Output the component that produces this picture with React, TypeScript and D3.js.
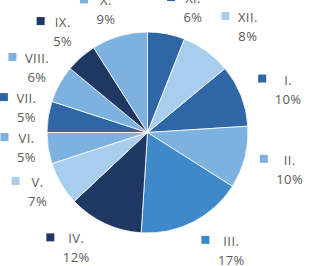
import { useMemo } from "react"
import * as d3 from "d3"

// months and their share of the year
const months = ["I.", "II.", "III.", "IV.", "V.", "VI.", "VII.", "VIII.", "IX.", "X.", "XI.", "XII."]
const shares = [10, 10, 17, 12, 7, 5, 5, 6, 5, 9, 6, 8]
const pctLabels = ["10%", "10%", "17%", "12%", "7%", "5%", "5%", "6%", "5%", "9%", "6%", "8%"]

const palette = [
  "#2f66a5", "#7db1e0", "#3f88c9", "#1e3763", "#a9cdec", "#7db1e0",
  "#2f66a5", "#7db1e0", "#1e3763", "#7db1e0", "#2f66a5", "#a9cdec",
]

// label layout (polar, degrees clockwise from 12 o'clock, px from centre)
const labelAngle = [73, 104.7, 144.7, 211.6, 241.6, 262.7, 281.4, 300.3, 319.8, 341.2, 20.1, 43.6]
const labelDist = [147, 147, 145, 136, 125, 122, 123.5, 128, 131.5, 129, 132.5, 145.5]

const W = 311
const H = 266
const FONT = "13px 'Open Sans'"
const LS = 0.4

export default function App() {
  const cx = 147.5
  const cy = 132.5
  const r = 100.5

  // XI and XII sit first from 12 o'clock, so January starts after them
  const offset = ((shares[10] + shares[11]) / d3.sum(shares)) * 2 * Math.PI
  const pie = d3
    .pie<number>()
    .value((d) => d)
    .sort(null)
    .startAngle(offset)
    .endAngle(offset + 2 * Math.PI)
  const arcs = pie(shares)
  const arc = d3.arc<d3.PieArcDatum<number>>().innerRadius(0).outerRadius(r)

  const measure = useMemo(() => {
    const ctx = document.createElement("canvas").getContext("2d")!
    ctx.font = FONT
    return (s: string) => ctx.measureText(s).width + LS * s.length
  }, [])

  return (
    <svg width={W} height={H} style={{ position: "absolute", left: 0, top: 0 }}>
      <rect width={W} height={H} fill="white" />
      <g transform={`translate(${cx},${cy})`}>
        {arcs.map((a, i) => (
          <path key={i} d={arc(a) || ""} fill={palette[i]} stroke="white" strokeWidth={0.8} />
        ))}
      </g>
      {months.map((m, i) => {
        const [px, py] = d3.pointRadial((labelAngle[i] * Math.PI) / 180, labelDist[i])
        const tx = cx + px
        const b1 = cy + py - 5
        const bw = Math.max(measure(m), measure(pctLabels[i]))
        const left = tx - bw / 2
        return (
          <g key={m} fontFamily="'Open Sans'" fontSize={13} fill="#595959" letterSpacing={LS}>
            <rect x={left - 8.5 - 8} y={b1 - 10} width={8} height={8} fill={palette[i]} />
            <text x={tx} y={b1} textAnchor="middle">{m}</text>
            <text x={tx} y={b1 + 19} textAnchor="middle">{pctLabels[i]}</text>
          </g>
        )
      })}
    </svg>
  )
}
